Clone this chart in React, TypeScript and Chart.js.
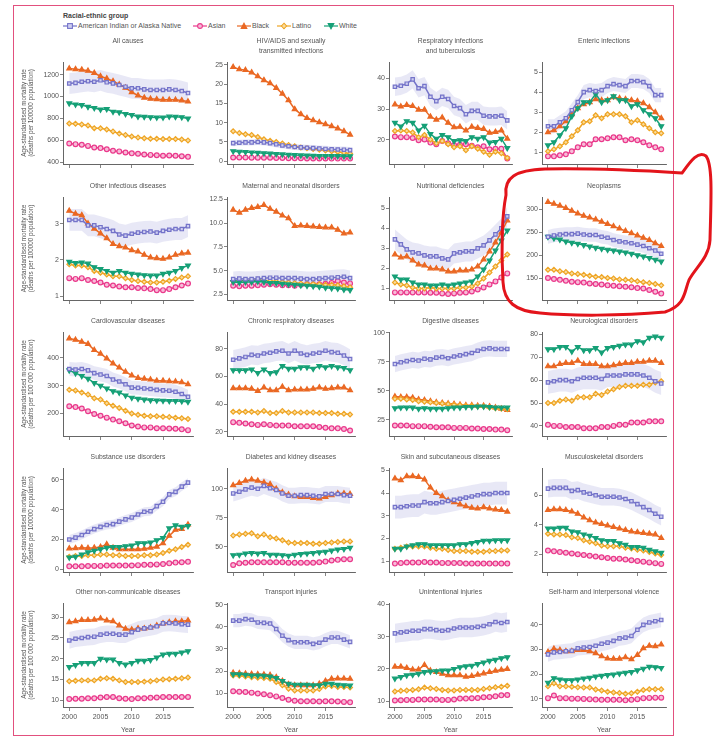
import React, { useEffect, useRef } from "react";
import { Chart, registerables } from "chart.js";
Chart.register(...registerables);

const FONT = '"Liberation Sans", Arial, sans-serif';
Chart.defaults.font.family = FONT;
Chart.defaults.color = "#555";

const years = [2000, 2001, 2002, 2003, 2004, 2005, 2006, 2007, 2008, 2009, 2010, 2011, 2012, 2013, 2014, 2015, 2016, 2017, 2018, 2019];
const yearTicks = [2000, 2005, 2010, 2015];
const groups = ["American Indian or Alaska Native", "Asian", "Black", "Latino", "White"];
const groupColors = ["#7473c9", "#ea3a8c", "#ea6823", "#efa525", "#16a077"];
const groupFill = ["#cfcff0", "#f7bcd8", "#ea6823", "#f9dc9c", "#16a077"];
const groupMarkers = ["rect", "circle", "triangle", "rectRot", "triangle"];
const groupRotation = [0, 0, 0, 0, 180];

// each panel: [AIAN, Asian, Black, Latino, White]
const allCauses = [
  [1119, 1125, 1135, 1140, 1135, 1148, 1130, 1120, 1105, 1090, 1075, 1075, 1065, 1060, 1060, 1060, 1065, 1060, 1050, 1032],
  [572, 566, 560, 550, 536, 530, 520, 506, 500, 490, 482, 478, 472, 468, 465, 460, 462, 460, 455, 450],
  [1255, 1250, 1245, 1235, 1215, 1185, 1165, 1140, 1110, 1080, 1040, 1010, 990, 980, 975, 970, 970, 970, 965, 955],
  [754, 752, 746, 736, 712, 710, 700, 682, 662, 650, 636, 626, 620, 616, 615, 612, 612, 612, 608, 600],
  [938, 928, 922, 906, 896, 882, 886, 862, 856, 842, 832, 817, 815, 812, 810, 810, 817, 815, 812, 800],
];
const hivAids = [
  [4.7, 4.8, 4.9, 4.9, 5.0, 4.9, 4.7, 4.4, 4.1, 3.9, 3.7, 3.6, 3.5, 3.4, 3.3, 3.2, 3.1, 3.05, 3.0, 2.9],
  [1.0, 1.0, 1.0, 0.95, 0.95, 0.9, 0.9, 0.85, 0.85, 0.8, 0.8, 0.8, 0.75, 0.75, 0.75, 0.72, 0.7, 0.7, 0.7, 0.7],
  [24.4, 23.8, 23.6, 23.0, 22.0, 21.0, 20.2, 19.0, 17.5, 15.8, 13.5, 12.2, 11.2, 10.6, 10.1, 9.6, 9.1, 8.5, 7.8, 6.9],
  [7.8, 7.3, 7.0, 6.8, 6.3, 5.7, 5.3, 5.0, 4.6, 4.2, 3.9, 3.6, 3.4, 3.2, 3.0, 2.8, 2.6, 2.4, 2.2, 2.0],
  [2.6, 2.5, 2.4, 2.3, 2.2, 2.1, 2.0, 1.9, 1.8, 1.7, 1.6, 1.55, 1.5, 1.45, 1.4, 1.4, 1.35, 1.35, 1.3, 1.3],
];
const respInfections = [
  [37.3, 37.6, 38.3, 39.7, 36.8, 37.5, 34.0, 32.6, 34.0, 33.3, 31.0, 30.3, 28.3, 29.4, 29.4, 27.8, 27.6, 27.6, 27.8, 26.3],
  [21.0, 20.8, 20.8, 20.5, 19.8, 20.0, 19.0, 18.5, 19.5, 18.8, 18.2, 18.3, 18.5, 18.0, 17.5, 17.8, 16.8, 17.0, 17.0, 13.8],
  [31.5, 30.8, 31.3, 31.0, 29.8, 29.8, 27.5, 26.5, 27.2, 25.5, 24.0, 24.2, 23.0, 24.2, 23.8, 23.5, 22.2, 22.5, 23.0, 20.3],
  [22.8, 23.0, 22.8, 22.3, 20.8, 21.5, 20.0, 18.8, 19.5, 18.5, 17.5, 17.8, 16.5, 17.8, 17.0, 16.0, 15.0, 16.0, 15.5, 14.0],
  [25.5, 24.3, 26.0, 25.5, 23.0, 24.5, 21.8, 20.3, 21.5, 20.8, 19.5, 19.8, 19.5, 20.8, 20.3, 20.8, 19.0, 19.2, 20.3, 17.2],
];
const enteric = [
  [2.3, 2.3, 2.5, 2.7, 3.1, 3.5, 4.0, 4.1, 4.05, 4.1, 4.3, 4.4, 4.35, 4.3, 4.55, 4.55, 4.5, 4.3, 3.85, 3.85],
  [0.8, 0.8, 0.85, 0.9, 1.05, 1.25, 1.4, 1.4, 1.65, 1.65, 1.7, 1.75, 1.75, 1.6, 1.65, 1.6, 1.5, 1.35, 1.25, 1.15],
  [2.0, 2.1, 2.3, 2.55, 2.9, 3.2, 3.4, 3.5, 3.65, 3.6, 3.6, 3.75, 3.7, 3.65, 3.6, 3.55, 3.45, 3.25, 3.0, 2.7],
  [1.05, 1.15, 1.3, 1.5, 1.8, 2.1, 2.5, 2.55, 2.85, 2.7, 2.9, 2.9, 2.9, 2.8, 2.5, 2.6, 2.4, 2.2, 2.0, 1.95],
  [1.35, 1.5, 1.85, 2.2, 2.8, 3.2, 3.5, 3.5, 3.9, 3.5, 3.6, 3.8, 3.6, 3.6, 3.3, 3.4, 3.1, 2.9, 2.7, 2.3],
];
const otherInfectious = [
  [3.1, 3.1, 3.1, 2.95, 2.95, 2.9, 2.85, 2.8, 2.7, 2.67, 2.72, 2.75, 2.77, 2.78, 2.75, 2.8, 2.83, 2.85, 2.85, 2.93],
  [1.5, 1.48, 1.5, 1.45, 1.42, 1.38, 1.32, 1.3, 1.27, 1.25, 1.25, 1.23, 1.22, 1.2, 1.17, 1.17, 1.2, 1.25, 1.3, 1.35],
  [3.35, 3.27, 3.23, 3.0, 2.86, 2.73, 2.6, 2.44, 2.38, 2.34, 2.27, 2.23, 2.14, 2.07, 2.05, 2.03, 2.07, 2.14, 2.18, 2.2],
  [1.88, 1.85, 1.85, 1.8, 1.7, 1.65, 1.6, 1.55, 1.55, 1.5, 1.45, 1.42, 1.4, 1.38, 1.38, 1.4, 1.43, 1.48, 1.52, 1.55],
  [1.95, 1.92, 1.93, 1.9, 1.8, 1.75, 1.7, 1.65, 1.7, 1.65, 1.62, 1.6, 1.58, 1.57, 1.57, 1.62, 1.65, 1.7, 1.78, 1.85],
];
const maternal = [
  [4.1, 4.15, 4.1, 4.1, 4.15, 4.2, 4.25, 4.25, 4.2, 4.2, 4.2, 4.15, 4.1, 4.1, 4.15, 4.2, 4.25, 4.3, 4.35, 4.2],
  [3.4, 3.35, 3.4, 3.4, 3.45, 3.5, 3.55, 3.5, 3.45, 3.45, 3.4, 3.5, 3.55, 3.5, 3.55, 3.6, 3.7, 3.9, 3.75, 3.65],
  [11.4, 11.1, 11.4, 11.6, 11.7, 11.9, 11.5, 11.2, 10.8, 10.5, 9.7, 9.75, 9.7, 9.65, 9.6, 9.55, 9.55, 9.3, 8.9, 9.0],
  [3.9, 3.9, 3.95, 3.95, 4.0, 3.95, 3.9, 3.85, 3.8, 3.75, 3.7, 3.65, 3.6, 3.6, 3.55, 3.5, 3.5, 3.45, 3.35, 3.25],
  [3.8, 3.75, 3.8, 3.8, 3.85, 3.8, 3.7, 3.7, 3.6, 3.55, 3.5, 3.45, 3.4, 3.35, 3.3, 3.2, 3.15, 3.1, 3.0, 2.95],
];
const nutritional = [
  [3.45, 3.2, 2.95, 2.8, 2.75, 2.65, 2.6, 2.6, 2.5, 2.45, 2.75, 2.8, 2.85, 2.85, 3.0, 3.15, 3.4, 3.7, 4.0, 4.6],
  [0.8, 0.8, 0.8, 0.8, 0.8, 0.8, 0.78, 0.78, 0.75, 0.72, 0.75, 0.78, 0.8, 0.85, 0.95, 1.05, 1.2, 1.35, 1.55, 1.75],
  [2.7, 2.55, 2.6, 2.4, 2.2, 2.15, 2.0, 2.0, 1.95, 1.85, 1.85, 1.9, 1.9, 1.95, 2.1, 2.45, 2.85, 3.3, 3.8, 4.4],
  [1.3, 1.2, 1.15, 1.05, 1.0, 1.0, 1.05, 1.0, 1.0, 1.0, 1.0, 1.05, 1.05, 1.1, 1.25, 1.5, 1.8, 2.1, 2.4, 2.7],
  [1.6, 1.45, 1.45, 1.3, 1.2, 1.2, 1.15, 1.15, 1.2, 1.15, 1.2, 1.25, 1.3, 1.35, 1.6, 1.95, 2.4, 2.9, 3.4, 3.9],
];
const neoplasms = [
  [240, 243, 245, 246, 246, 247, 245, 244, 244, 240, 238, 233, 230, 228, 226, 223, 220, 215, 210, 203],
  [150, 148, 146, 144, 142, 141, 140, 138, 137, 136, 134, 133, 132, 131, 130, 128, 127, 124, 120, 116],
  [316, 312, 308, 303, 297, 291, 286, 282, 278, 273, 268, 263, 258, 253, 248, 243, 238, 233, 226, 220],
  [168, 168, 165, 163, 160, 159, 157, 155, 153, 152, 150, 149, 147, 146, 145, 143, 141, 139, 137, 134],
  [240, 237, 234, 230, 227, 225, 222, 219, 216, 214, 212, 210, 208, 206, 203, 200, 197, 194, 190, 186],
];
const cardiovascular = [
  [360, 358, 360, 355, 345, 340, 335, 322, 315, 305, 293, 292, 290, 288, 285, 283, 282, 278, 270, 260],
  [226, 223, 218, 208, 198, 192, 185, 178, 172, 165, 157, 153, 150, 150, 147, 147, 146, 145, 143, 140],
  [470, 465, 458, 450, 428, 415, 398, 380, 365, 350, 337, 328, 325, 322, 318, 318, 316, 315, 312, 305],
  [285, 283, 275, 268, 255, 250, 237, 228, 220, 210, 200, 195, 192, 190, 190, 188, 187, 185, 183, 180],
  [355, 345, 335, 325, 310, 300, 290, 280, 275, 265, 257, 253, 250, 248, 247, 246, 245, 245, 244, 242],
];
const chronicRespiratory = [
  [72, 73, 74, 75.5, 75, 76.5, 77, 78, 78.5, 76.5, 78.5, 76.5, 75.5, 76.5, 77, 78.5, 77.5, 77, 75, 72.5],
  [27, 26.5, 26, 25.5, 25, 25.5, 25, 24.5, 24.5, 24.5, 24, 24, 24, 24, 23.5, 23, 22.5, 22.5, 22, 21],
  [51.5, 51.5, 51.5, 51, 49.5, 52, 50, 50, 52.5, 50, 50.5, 50.5, 50.5, 51, 52, 51, 51.5, 52, 52, 50],
  [34.5, 34.5, 34.5, 34.5, 34, 35, 33.5, 33.5, 35, 34, 34, 34, 34, 34, 33.5, 33.5, 33.5, 33, 33, 32.5],
  [64.5, 64.5, 64.5, 65, 62.5, 65, 62.5, 63, 67.5, 65.5, 65.5, 66.5, 66.5, 65.5, 67.5, 66.5, 67.5, 66.5, 66, 64.5],
];
const digestive = [
  [73, 74.5, 75.5, 76.5, 76, 77.5, 77, 78.5, 79, 78, 79.5, 80.5, 81.5, 82.5, 84.5, 86, 86.5, 86, 86, 86],
  [20, 20, 20, 19.5, 19.5, 19.5, 19, 18.5, 18.5, 18.5, 18, 18, 18, 17.5, 17.5, 17, 17, 16.5, 16.5, 16],
  [45, 44.5, 44.5, 44, 42.5, 42, 41, 40, 39.5, 39, 38.5, 38, 37.5, 37.5, 37, 37, 36.5, 35.5, 34.5, 33.5],
  [43, 43, 42.5, 42, 41, 40.5, 40, 39.5, 39, 38.5, 38, 37.5, 37, 37, 36.5, 36.5, 35.5, 35, 34.5, 34],
  [35, 35.5, 35.5, 35.5, 34.5, 35, 34.5, 34.5, 34.5, 35, 35.5, 35.5, 36, 36, 36.5, 36.5, 36, 35.5, 35.5, 35.5],
];
const neurological = [
  [59, 59.5, 60, 60, 59.5, 60.5, 61, 61, 61, 60.5, 62, 62, 62, 62.5, 62.5, 62.5, 62, 61, 59.5, 58.5],
  [40.5, 40, 40, 39.5, 39.5, 39.5, 39, 39, 39, 39.5, 39.5, 40, 40.5, 40.5, 41.5, 41.5, 41.5, 42, 42, 42],
  [66, 66, 67, 67.5, 67.5, 68.5, 67, 67, 67, 66, 66, 66.5, 67, 67.5, 67.5, 68, 68, 68.5, 68.5, 67.5],
  [50, 50, 51, 51.5, 51, 52.5, 52.5, 52.5, 54, 53.5, 55, 56, 57, 57.5, 57.5, 57.5, 58, 58, 59, 59.5],
  [73.5, 73.5, 74.5, 74.5, 72.5, 74.5, 73, 73, 74, 72, 74, 74.5, 75, 75.5, 75.5, 77, 76.5, 78.5, 79, 78.5],
];
const substanceUse = [
  [20, 21.3, 23, 25.2, 27, 28.5, 29.7, 30.3, 32, 33.5, 34.8, 36.8, 38.6, 39, 42.4, 45.3, 50.3, 52, 55.5, 58.2],
  [2, 2, 2, 2.2, 2.3, 2.3, 2.5, 2.5, 2.5, 2.5, 2.6, 2.8, 3, 3.1, 3.3, 3.5, 4, 4.5, 4.7, 5],
  [14, 14.2, 14.5, 14.3, 14.5, 15, 16.8, 14.5, 13.5, 13.5, 13.5, 13.5, 13.8, 14.5, 15.2, 17.5, 22.5, 26.5, 27, 30],
  [8.5, 9, 9, 9.5, 9.5, 10, 10, 9.5, 9.5, 9, 9, 9, 9.5, 9.5, 10, 11, 12.5, 13.5, 15, 16.5],
  [8, 8.5, 10, 11.5, 12.5, 13.5, 14.5, 15, 15, 15.5, 16, 17.5, 17.5, 18, 19.5, 21, 27.5, 29.5, 28.5, 29],
];
const diabetesKidney = [
  [96, 97.5, 99.5, 101, 100, 102.5, 100.5, 99, 96, 94, 94, 94.5, 94.5, 94, 93.5, 95.5, 95.5, 95.5, 94.5, 94],
  [34, 35.5, 36, 36.5, 36.5, 36.5, 36.5, 36.5, 36.5, 36, 36, 36, 36, 36, 36.5, 37, 38, 38.5, 39, 39],
  [103, 105, 107, 108, 107, 105.5, 104, 100, 97, 95, 93.5, 93, 93, 92, 91.5, 93, 94.5, 96, 96, 95.5],
  [59.5, 60.5, 61, 61.5, 59, 60.5, 58, 57, 55.5, 53.5, 53, 53, 53, 52.5, 52.5, 53, 53.5, 54, 54.5, 54.5],
  [42.5, 43, 44, 44.5, 44, 44.5, 43, 43, 42.5, 42, 43, 43.5, 44, 44.5, 45, 45.5, 46.5, 47.5, 48, 49],
];
const skin = [
  [3.38, 3.38, 3.42, 3.45, 3.45, 3.6, 3.55, 3.55, 3.6, 3.65, 3.7, 3.75, 3.8, 3.85, 3.9, 3.95, 3.95, 4.0, 4.0, 4.0],
  [0.9, 0.92, 0.95, 0.95, 0.95, 0.97, 0.95, 0.95, 0.93, 0.92, 0.92, 0.92, 0.9, 0.9, 0.9, 0.9, 0.9, 0.9, 0.9, 0.9],
  [4.64, 4.56, 4.74, 4.74, 4.7, 4.6, 4.24, 4.0, 3.86, 3.68, 3.6, 3.5, 3.42, 3.35, 3.32, 3.38, 3.32, 3.28, 3.25, 3.18],
  [1.55, 1.6, 1.65, 1.65, 1.65, 1.65, 1.6, 1.55, 1.55, 1.5, 1.45, 1.45, 1.45, 1.42, 1.42, 1.42, 1.45, 1.45, 1.48, 1.48],
  [1.55, 1.55, 1.65, 1.7, 1.75, 1.75, 1.7, 1.7, 1.7, 1.7, 1.7, 1.75, 1.75, 1.8, 1.85, 1.9, 1.9, 1.92, 1.92, 1.92],
];
const musculoskeletal = [
  [6.45, 6.5, 6.5, 6.5, 6.3, 6.35, 6.2, 6.1, 6.0, 5.9, 5.9, 5.9, 5.85, 5.75, 5.6, 5.4, 5.2, 5.0, 4.75, 4.55],
  [2.25, 2.2, 2.15, 2.1, 2.05, 2.0, 1.95, 1.9, 1.85, 1.8, 1.75, 1.7, 1.7, 1.65, 1.6, 1.55, 1.5, 1.45, 1.4, 1.35],
  [5.0, 5.05, 5.05, 5.0, 4.9, 4.75, 4.5, 4.3, 4.15, 4.05, 3.95, 3.85, 3.75, 3.65, 3.55, 3.5, 3.45, 3.4, 3.35, 3.1],
  [3.4, 3.35, 3.35, 3.3, 3.15, 3.1, 2.95, 2.85, 2.75, 2.6, 2.55, 2.55, 2.55, 2.45, 2.4, 2.3, 2.25, 2.15, 2.05, 1.95],
  [3.75, 3.75, 3.8, 3.8, 3.55, 3.5, 3.35, 3.25, 3.1, 2.95, 2.9, 2.9, 2.75, 2.65, 2.5, 2.5, 2.45, 2.3, 2.2, 2.1],
];
const otherNonCommunicable = [
  [24.4, 24.8, 25, 25.2, 25.3, 25.8, 26, 26, 25.8, 25.8, 26.4, 27, 27.3, 27.5, 27.8, 28.5, 28.6, 28.5, 28.3, 28.2],
  [10.3, 10.4, 10.4, 10.5, 10.5, 10.7, 10.8, 10.8, 10.5, 10.4, 10.3, 10.5, 10.5, 10.6, 10.7, 10.8, 10.8, 10.8, 10.8, 10.8],
  [28.8, 29, 29.3, 29.3, 29.4, 29.7, 29.2, 29, 28, 27.2, 27, 27.3, 27.3, 27.5, 28, 28.5, 28.8, 29, 29, 29.2],
  [14.6, 14.7, 14.8, 14.8, 14.8, 15.2, 15.3, 15.2, 14.8, 14.4, 14.4, 14.4, 14.5, 14.6, 14.8, 15, 15.1, 15.2, 15.3, 15.5],
  [18, 18.5, 19, 19, 19, 20, 19.8, 19.8, 19, 18.6, 19, 19.5, 19.5, 19.7, 20.3, 21, 21.2, 21.2, 21.5, 21.8],
];
const transport = [
  [42.8, 42.8, 43.5, 43.2, 42, 41.8, 41.5, 39, 36, 34, 33, 33, 33, 32.3, 32.8, 34.2, 35.2, 35.2, 34.2, 33.2],
  [10.8, 10.6, 10.5, 10.2, 9.8, 9.5, 9, 8.5, 7.8, 7, 6.5, 6.3, 6.3, 6.3, 6.2, 6.3, 6.3, 6.2, 6.0, 5.8],
  [19.2, 19, 18.8, 18.6, 18.5, 18.4, 18.2, 17.2, 15.5, 14, 13.5, 13.5, 13.5, 13.5, 14.2, 15.5, 16.5, 16.6, 16.6, 16.5],
  [18, 17.8, 17.5, 17.2, 17, 16.8, 16.5, 15, 13.5, 12, 11.2, 11.2, 11.2, 11.2, 11.8, 13, 13.2, 12.8, 12.8, 12.5],
  [18.5, 18.5, 18.3, 18, 18, 17.8, 17.5, 16.8, 15.5, 14.2, 13.8, 13.8, 13.8, 13.5, 13.5, 14.2, 14.2, 13.8, 13.6, 13.4],
];
const unintentional = [
  [31, 31.3, 31.5, 31.8, 31.8, 32.3, 32.3, 32, 31.8, 32, 32.5, 32.8, 32.8, 32.8, 33, 33.3, 33.8, 34.5, 34.2, 34.5],
  [10.2, 10.3, 10.4, 10.4, 10.5, 10.5, 10.5, 10.5, 10.4, 10.4, 10.5, 10.8, 10.8, 10.9, 11, 11.2, 11.3, 11.5, 11.8, 11.9],
  [20.7, 20.7, 20.3, 19.8, 19.8, 21.2, 19.5, 19, 18.5, 18, 18, 18, 17.6, 17.8, 18.2, 18.6, 19, 19.4, 19.7, 20],
  [13, 13.2, 13.3, 13.5, 13.7, 14.2, 14, 13.8, 13.5, 13.3, 13.3, 13.5, 13.5, 13.5, 13.5, 13.8, 14, 14.3, 14.5, 14.8],
  [17, 17.5, 18, 18.2, 18.5, 19, 19.2, 19.3, 19.5, 19.5, 20, 20.5, 20.8, 21, 21.5, 22, 22.5, 22.8, 23.3, 23.6],
];
const selfHarm = [
  [28, 28.8, 29, 29.3, 29.5, 30.5, 30.8, 31, 31.5, 32.3, 32.8, 33.5, 34.5, 34.8, 35.5, 38, 40, 41, 41.5, 42],
  [10.2, 11.3, 10.2, 10.2, 10, 10, 9.9, 9.8, 9.6, 9.5, 9.5, 9.5, 9.5, 9.3, 9.5, 9.8, 10.2, 10.3, 10.4, 10.4],
  [29, 30.3, 29.8, 29.3, 29.3, 29.8, 29.8, 29.3, 28.5, 27.2, 26.3, 26.2, 26.2, 26.8, 26, 27.8, 30.5, 31.5, 31.3, 32],
  [15, 16.3, 15, 15, 14.8, 14.6, 14.5, 14.5, 13.7, 13.3, 12.8, 12.5, 12.3, 12, 12.2, 12.8, 13.5, 13.8, 13.8, 13.8],
  [16.5, 18.3, 17.8, 17.5, 17.5, 17.8, 18.2, 18.5, 19, 19.3, 19.6, 19.8, 20.2, 20.5, 20.8, 21.5, 22.2, 23, 22.8, 22.5],
];

const panelData = [
  allCauses, hivAids, respInfections, enteric,
  otherInfectious, maternal, nutritional, neoplasms,
  cardiovascular, chronicRespiratory, digestive, neurological,
  substanceUse, diabetesKidney, skin, musculoskeletal,
  otherNonCommunicable, transport, unintentional, selfHarm,
];
const panelTitles = [
  ["All causes"], ["HIV/AIDS and sexually", "transmitted infections"], ["Respiratory infections", "and tuberculosis"], ["Enteric infections"],
  ["Other infectious diseases"], ["Maternal and neonatal disorders"], ["Nutritional deficiencies"], ["Neoplasms"],
  ["Cardiovascular diseases"], ["Chronic respiratory diseases"], ["Digestive diseases"], ["Neurological disorders"],
  ["Substance use disorders"], ["Diabetes and kidney diseases"], ["Skin and subcutaneous diseases"], ["Musculoskeletal disorders"],
  ["Other non-communicable diseases"], ["Transport injuries"], ["Unintentional injuries"], ["Self-harm and interpersonal violence"],
];
const panelTicks = [
  [400, 600, 800, 1000, 1200], [0, 5, 10, 15, 20, 25], [20, 30, 40], [1, 2, 3, 4, 5],
  [1, 2, 3], [2.5, 5, 7.5, 10, 12.5], [1, 2, 3, 4, 5], [150, 200, 250, 300],
  [200, 300, 400], [20, 40, 60, 80], [25, 50, 75, 100], [40, 50, 60, 70, 80],
  [0, 20, 40, 60], [50, 75, 100], [1, 2, 3, 4, 5], [2, 4, 6],
  [10, 15, 20, 25, 30], [10, 20, 30, 40, 50], [10, 20, 30, 40], [10, 20, 30, 40],
];
const panelDecimals = [0, 0, 0, 0, 0, 1, 0, 0, 0, 0, 0, 0, 0, 0, 0, 0, 0, 0, 0, 0];
const panelRange = [
  [385, 1315], [-0.7, 25.7], [12, 45.4], [0.42, 5.5],
  [0.9, 3.73], [1.9, 12.75], [0.42, 5.57], [102, 327],
  [119, 493], [17, 92], [11, 100.6], [35.6, 81],
  [-1.8, 68], [28, 118], [0.53, 5.1], [0.8, 7.85],
  [8.4, 33.4], [3.7, 50.8], [8.2, 40.4], [6.6, 48.9],
];
// half-width of the American Indian or Alaska Native uncertainty band
const aianBand = [95, 0.8, 3, 0.35, 0.3, 0.8, 0.5, 15, 25, 7, 7, 5, 3, 7, 0.5, 0.6, 2, 3, 3, 3];
const yTitleLines = [
  ["Age-standardised mortality rate", "(deaths per 100000 population)"],
  ["Age-standardised mortality rate", "(deaths per 100000 population)"],
  ["Age-standardised mortality rate", "(deaths per 100 000 population)"],
  ["Age-standardised mortality rate", "(deaths per 100000 population)"],
  ["Age-standardised mortality rate", "(deaths per 100 000 population)"],
];

// layout (pixels)
const colAxisX = [63, 227, 389, 542];
const colPlotW = [130, 128, 123, 124];
const rowTop = [62, 197, 332, 468, 603];
const rowBottom = [164, 300, 436, 572, 707];
const legendX = [63, 193, 237, 277, 324];

const panelTitlePlugin = {
  id: "panelTitle",
  afterDraw(chart: any, _args: any, opts: any) {
    const { ctx, chartArea } = chart;
    ctx.save();
    ctx.font = `6.8px ${FONT}`;
    ctx.fillStyle = "#555";
    ctx.textAlign = "center";
    ctx.textBaseline = "middle";
    const cx = (chartArea.left + chartArea.right) / 2;
    (opts.lines || []).forEach((t: string, i: number) => {
      ctx.fillText(t, cx, chartArea.top + opts.offset + i * opts.lineHeight);
    });
    ctx.restore();
  },
};

function Panel({ idx }: { idx: number }) {
  const ref = useRef<HTMLCanvasElement>(null);
  const row = Math.floor(idx / 4);
  const col = idx % 4;
  const YW = col === 0 ? 49 : 30;
  const TH = 28;
  const RP = 8;
  const XH = row === 4 ? 30 : 7;
  const plotW = colPlotW[col];
  const plotH = rowBottom[row] - rowTop[row];
  const W = YW + plotW + RP;
  const H = TH + plotH + XH;
  const left = colAxisX[col] - YW;
  const top = rowTop[row] - TH;

  useEffect(() => {
    const series = panelData[idx];
    const band = aianBand[idx];
    const datasets: any[] = [
      {
        label: "band-upper",
        data: years.map((y, i) => ({ x: y, y: series[0][i] + band })),
        borderWidth: 0,
        pointRadius: 0,
        fill: false,
        order: 20,
      },
      {
        label: "band-lower",
        data: years.map((y, i) => ({ x: y, y: series[0][i] - band })),
        borderWidth: 0,
        pointRadius: 0,
        fill: "-1",
        backgroundColor: "rgba(150,150,215,0.22)",
        order: 20,
      },
    ];
    groups.forEach((g, s) => {
      datasets.push({
        label: g,
        data: years.map((y, i) => ({ x: y, y: series[s][i] })),
        borderColor: groupColors[s],
        backgroundColor: groupColors[s],
        borderWidth: 1.5,
        pointStyle: groupMarkers[s],
        pointRotation: groupRotation[s],
        pointRadius: s === 2 || s === 4 ? 2.8 : 2.4,
        pointBorderWidth: 1.2,
        pointBackgroundColor: groupFill[s],
        pointBorderColor: groupColors[s],
        tension: 0,
        fill: false,
        order: s === 0 ? 0 : 10 - s,
      });
    });
    const gridOpts = (len: number) => ({
      display: true,
      drawOnChartArea: false,
      drawTicks: true,
      tickLength: len,
      color: "#666",
      lineWidth: 0.8,
    });
    const chart = new Chart(ref.current as HTMLCanvasElement, {
      type: "line",
      data: { datasets },
      plugins: [panelTitlePlugin],
      options: {
        responsive: false,
        animation: false,
        devicePixelRatio: 1,
        layout: { padding: { top: TH, right: RP, bottom: 0, left: 0 } },
        plugins: {
          legend: { display: false },
          tooltip: { enabled: false },
          title: { display: false },
          panelTitle: {
            lines: panelTitles[idx],
            offset: row === 0 ? -21 : -10.5,
            lineHeight: 10.5,
          },
        } as any,
        scales: {
          x: {
            type: "linear",
            min: 1999,
            max: 2019.8,
            bounds: "data",
            afterBuildTicks: (s: any) => {
              s.ticks = yearTicks.map((v) => ({ value: v }));
            },
            afterFit: (s: any) => {
              s.height = XH;
            },
            ticks: {
              display: row === 4,
              font: { size: 7 },
              color: "#555",
              padding: 2,
              maxRotation: 0,
              autoSkip: false,
              callback: (v: any) => String(v),
            },
            grid: gridOpts(4),
            border: { display: true, color: "#666", width: 1 },
            title: {
              display: row === 4,
              text: "Year",
              font: { size: 7 },
              color: "#555",
              padding: { top: 0, bottom: 3 },
            },
          },
          y: {
            type: "linear",
            min: panelRange[idx][0],
            max: panelRange[idx][1],
            bounds: "data",
            afterBuildTicks: (s: any) => {
              s.ticks = panelTicks[idx].map((v) => ({ value: v }));
            },
            afterFit: (s: any) => {
              s.width = YW;
            },
            ticks: {
              font: { size: 7 },
              color: "#555",
              padding: 1,
              autoSkip: false,
              callback: (v: any) => Number(v).toFixed(panelDecimals[idx]),
            },
            grid: gridOpts(3),
            border: { display: true, color: "#666", width: 1 },
            title: {
              display: col === 0,
              text: yTitleLines[row],
              font: { size: 6.3 },
              color: "#555",
              padding: { top: 6, bottom: 0 },
            },
          },
        },
      } as any,
    });
    return () => chart.destroy();
  }, []);

  return (
    <canvas
      ref={ref}
      width={W}
      height={H}
      style={{ position: "absolute", left, top, width: W, height: H }}
    />
  );
}

function LegendMarker({ s }: { s: number }) {
  const c = groupColors[s];
  const f = groupFill[s];
  let shape: any = null;
  if (s === 0) shape = <rect x={4.6} y={1.6} width={4.8} height={4.8} fill={f} stroke={c} strokeWidth={1.1} />;
  if (s === 1) shape = <circle cx={7} cy={4} r={2.4} fill={f} stroke={c} strokeWidth={1.1} />;
  if (s === 2) shape = <polygon points="7,1.2 9.8,6.4 4.2,6.4" fill={f} stroke={c} strokeWidth={1.1} />;
  if (s === 3) shape = <polygon points="7,1.2 9.6,4 7,6.8 4.4,4" fill={f} stroke={c} strokeWidth={1.1} />;
  if (s === 4) shape = <polygon points="4.2,1.6 9.8,1.6 7,6.8" fill={f} stroke={c} strokeWidth={1.1} />;
  return (
    <svg width={14} height={8} style={{ position: "absolute", left: 0, top: 0 }}>
      <line x1={0} y1={4} x2={14} y2={4} stroke={c} strokeWidth={1.2} />
      {shape}
    </svg>
  );
}

export default function App() {
  return (
    <div
      style={{
        position: "fixed",
        left: 0,
        top: 0,
        width: 713,
        height: 739,
        background: "#fff",
        overflow: "hidden",
        fontFamily: FONT,
      }}
    >
      <div
        style={{
          position: "absolute",
          left: 13,
          top: 5,
          width: 661,
          height: 731,
          border: "1px solid #e2507e",
          boxSizing: "border-box",
        }}
      />
      <div
        style={{
          position: "absolute",
          left: 63,
          top: 11,
          fontSize: 7,
          fontWeight: "bold",
          color: "#444",
          lineHeight: "10px",
          whiteSpace: "nowrap",
        }}
      >
        Racial-ethnic group
      </div>
      {groups.map((g, s) => (
        <div
          key={g}
          style={{ position: "absolute", left: legendX[s], top: 22, height: 8, whiteSpace: "nowrap" }}
        >
          <LegendMarker s={s} />
          <span
            style={{
              position: "absolute",
              left: 15,
              top: -1,
              fontSize: 7,
              lineHeight: "10px",
              color: "#555",
            }}
          >
            {g}
          </span>
        </div>
      ))}
      {panelData.map((_, i) => (
        <Panel key={i} idx={i} />
      ))}
      <svg
        width={713}
        height={739}
        style={{ position: "absolute", left: 0, top: 0, pointerEvents: "none" }}
      >
        <path
          d="M 506 195 C 504 178, 515 170, 545 169 C 600 168, 650 171, 682 173 C 690 162, 698 150, 706 156 C 713 165, 711 200, 710 240 C 709 258, 695 268, 689 280 C 684 292, 686 305, 665 312 C 620 316, 570 316, 540 313 C 515 311, 504 302, 503 282 C 501 250, 502 215, 506 195 Z"
          fill="none"
          stroke="#e3141b"
          strokeWidth={3}
          strokeLinejoin="round"
          strokeLinecap="round"
        />
      </svg>
    </div>
  );
}
